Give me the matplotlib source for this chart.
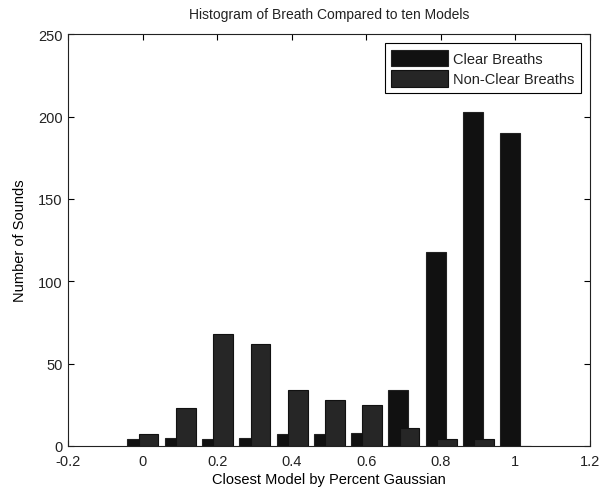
import numpy as np
import matplotlib.pyplot as plt

plt.rcParams['font.family'] = ['Liberation Sans', 'DejaVu Sans']
plt.rcParams['text.color'] = '#222222'
plt.rcParams['xtick.labelcolor'] = '#222222'
plt.rcParams['ytick.labelcolor'] = '#222222'

# bin centres and counts
bins = [0.0, 0.1, 0.2, 0.3, 0.4, 0.5, 0.6, 0.7, 0.8, 0.9, 1.0]
clear_counts = [4, 5, 4, 5, 7, 7, 8, 34, 118, 203, 190]
nonclear_counts = [7, 23, 68, 62, 34, 28, 25, 11, 4, 4, 0]

x = np.array(bins)
width = 0.053

fig = plt.figure(figsize=(6.07, 4.89), dpi=100)
ax = fig.add_axes([0.112, 0.086, 0.86, 0.842])

ax.bar(x - 0.014, clear_counts, width, color='#111111', edgecolor='#222222',
       linewidth=0.8, label='Clear Breaths', zorder=2)
ax.bar(x + 0.016, nonclear_counts, width, color='#262626', edgecolor='#111111',
       linewidth=0.8, label='Non-Clear Breaths', zorder=3)

ax.set_xlim(-0.2, 1.2)
ax.set_ylim(0, 250)
ax.set_xticks([-0.2, 0, 0.2, 0.4, 0.6, 0.8, 1, 1.2])
ax.set_xticklabels(['-0.2', '0', '0.2', '0.4', '0.6', '0.8', '1', '1.2'])
ax.set_yticks([0, 50, 100, 150, 200, 250])
ax.tick_params(direction='in', top=True, right=True, labelsize=10.5, length=4)
ax.tick_params(axis='x', pad=6)
ax.tick_params(axis='y', pad=4)
for s in ax.spines.values():
    s.set_linewidth(0.8)
    s.set_color('#222222')

ax.set_title('Histogram of Breath Compared to ten Models', fontsize=10, pad=12)
ax.set_xlabel('Closest Model by Percent Gaussian', fontsize=10.5, labelpad=3)
ax.set_ylabel('Number of Sounds', fontsize=10.5, labelpad=8)

leg = ax.legend(loc='upper right', fontsize=10.5, fancybox=False, framealpha=1,
                edgecolor='black', handlelength=3.9, handleheight=1.35,
                borderpad=0.45, labelspacing=0.3, handletextpad=0.35,
                borderaxespad=0.6)
leg.get_frame().set_linewidth(0.8)

fig.savefig('out.png', dpi=100)
